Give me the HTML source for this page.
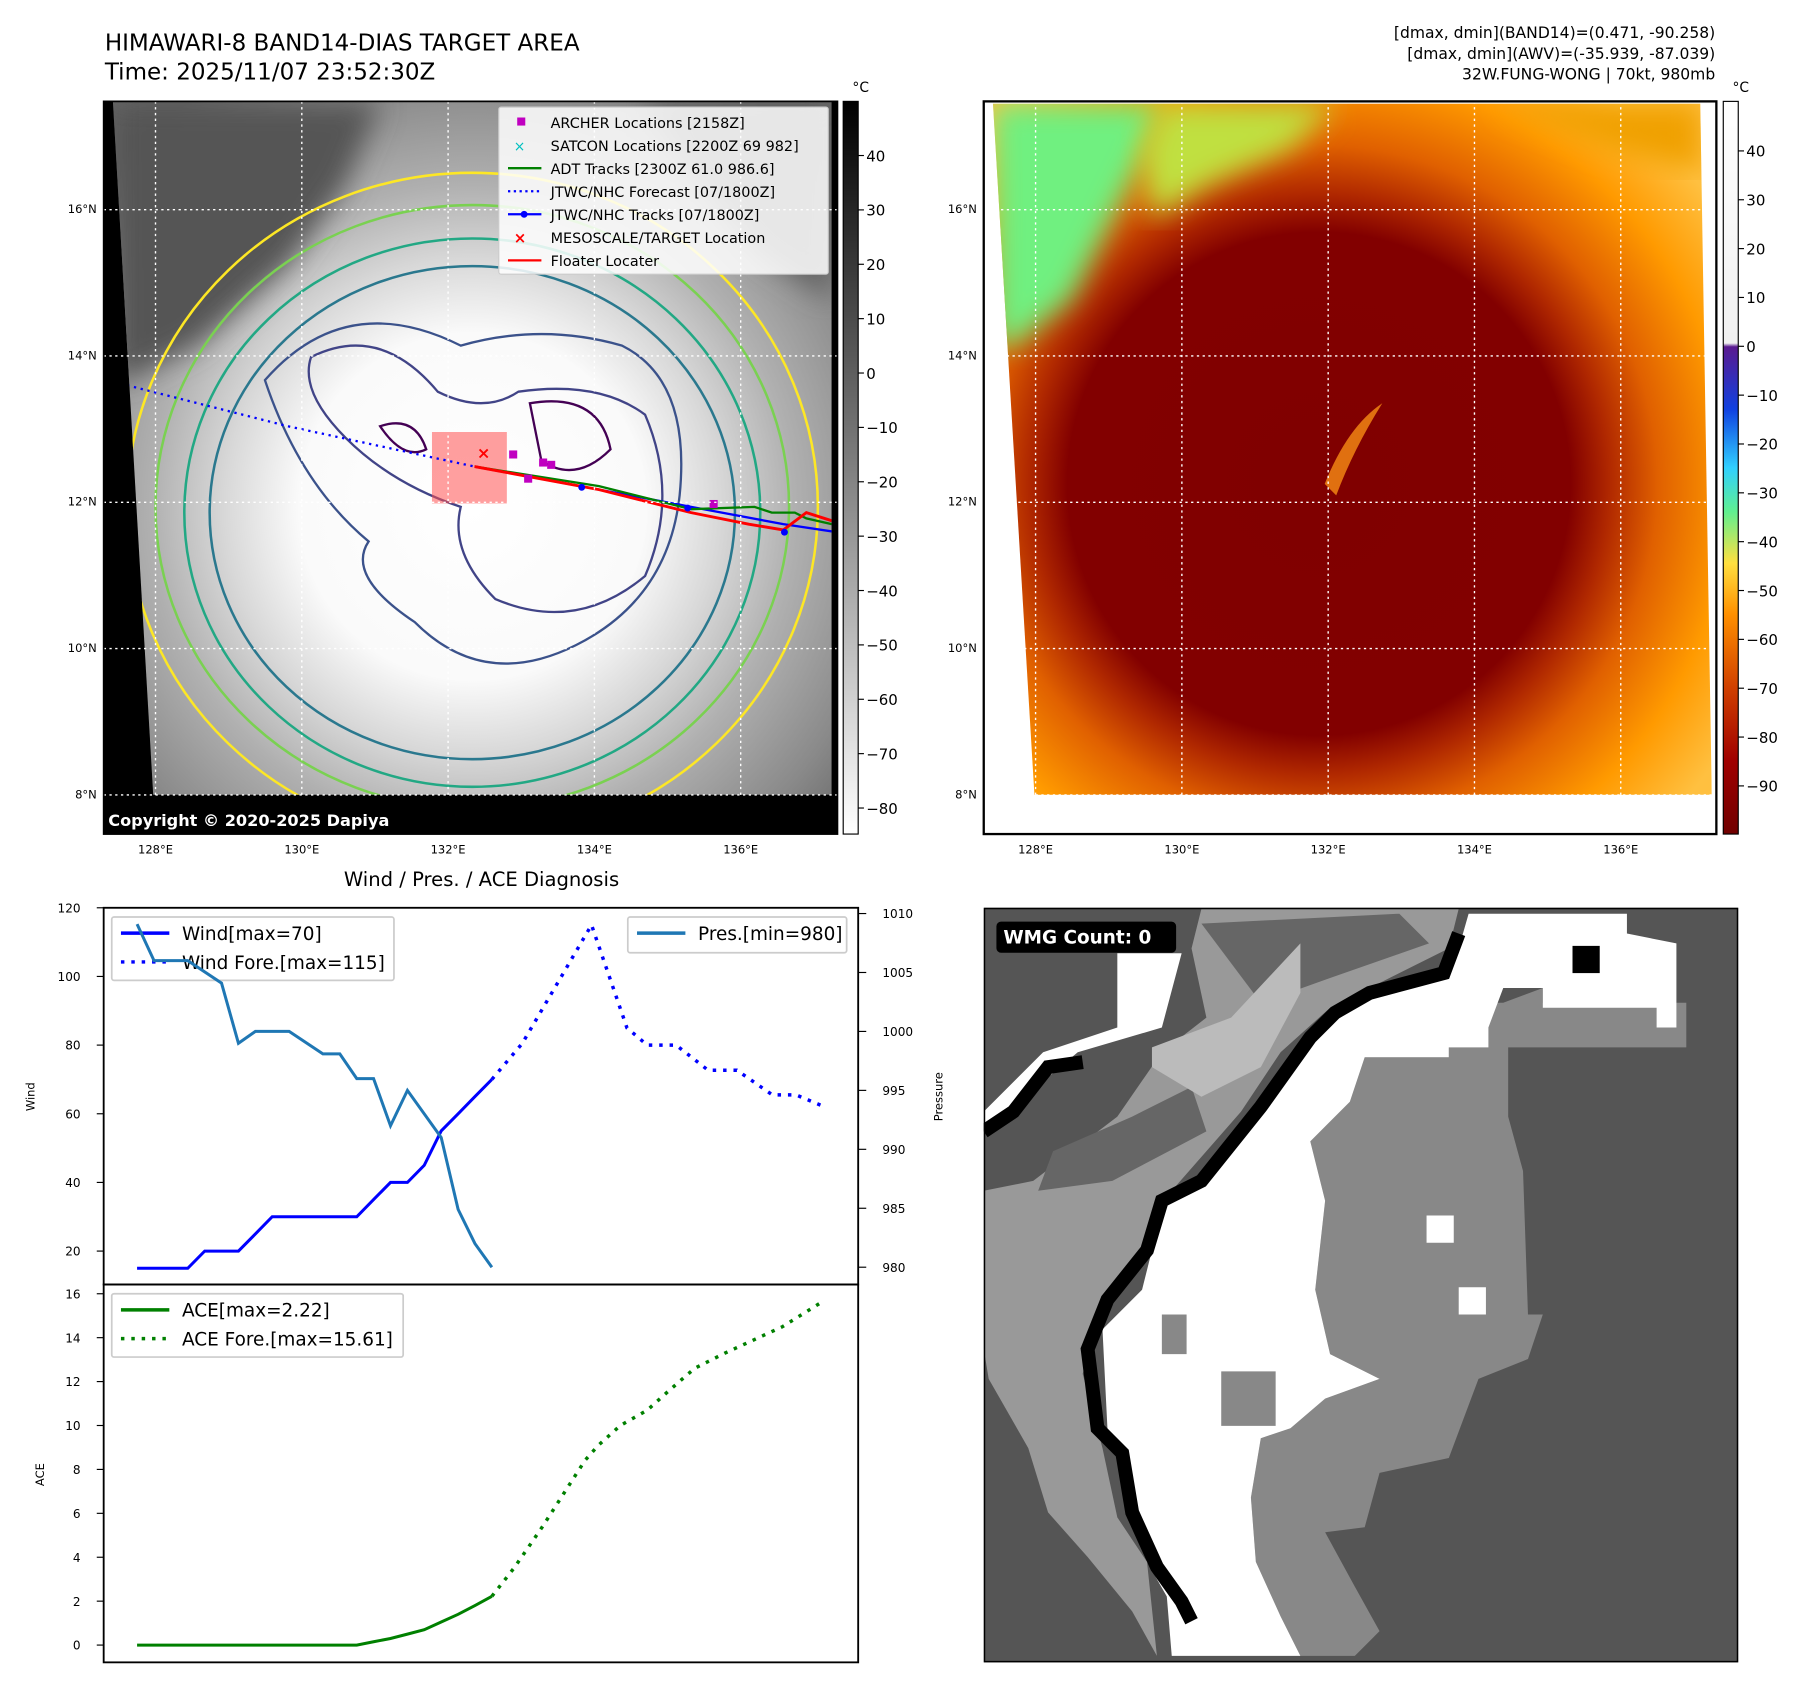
<!DOCTYPE html>
<html><head><meta charset="utf-8"><style>
html,body{margin:0;padding:0;background:#fff;}
svg{display:block;font-family:"DejaVu Sans","Liberation Sans",sans-serif;}
</style></head><body>
<svg id="root" width="1797" height="1690" viewBox="0 0 1560 1467" preserveAspectRatio="none" xmlns="http://www.w3.org/2000/svg">
<defs>
<radialGradient id="gmap" cx="410" cy="440" r="430" gradientUnits="userSpaceOnUse">
<stop offset="0" stop-color="#fff"/><stop offset="0.35" stop-color="#fafafa"/><stop offset="0.5" stop-color="#d8d8d8"/><stop offset="0.65" stop-color="#b0b0b0"/><stop offset="0.85" stop-color="#8a8a8a"/><stop offset="1" stop-color="#666"/></radialGradient>
<radialGradient id="rmap" cx="1145" cy="420" r="420" gradientUnits="userSpaceOnUse">
<stop offset="0" stop-color="#800000"/><stop offset="0.52" stop-color="#820000"/><stop offset="0.6" stop-color="#b02800"/><stop offset="0.7" stop-color="#e06000"/><stop offset="0.85" stop-color="#ff9a00"/><stop offset="1" stop-color="#ffc040"/></radialGradient>
<linearGradient id="cbg" x1="0" y1="0" x2="0" y2="1"><stop offset="0" stop-color="#000"/><stop offset="1" stop-color="#fff"/></linearGradient>
<linearGradient id="cbc" x1="0" y1="0" x2="0" y2="1">
<stop offset="0" stop-color="#fff"/><stop offset="0.33" stop-color="#f0f0f0"/><stop offset="0.335" stop-color="#5a1a90"/><stop offset="0.42" stop-color="#1040e0"/><stop offset="0.5" stop-color="#30d0ff"/><stop offset="0.56" stop-color="#60f090"/><stop offset="0.63" stop-color="#ffe040"/><stop offset="0.7" stop-color="#ff9000"/><stop offset="0.8" stop-color="#d04000"/><stop offset="0.9" stop-color="#a00000"/><stop offset="1" stop-color="#700000"/></linearGradient>
<clipPath id="lclip"><polygon points="98,88 722,88 722,690 133,690"/></clipPath>
<clipPath id="rclip"><polygon points="862,90 1476,90 1486,690 898,690"/></clipPath>
<filter id="blur"><feGaussianBlur stdDeviation="12"/></filter>
</defs>

<text x="91" y="44" font-size="20">HIMAWARI-8 BAND14-DIAS TARGET AREA</text>
<text x="91" y="69" font-size="20">Time: 2025/11/07 23:52:30Z</text>
<text x="1489" y="33" font-size="13.5" text-anchor="end">[dmax, dmin](BAND14)=(0.471, -90.258)</text>
<text x="1489" y="51" font-size="13.5" text-anchor="end">[dmax, dmin](AWV)=(-35.939, -87.039)</text>
<text x="1489" y="69" font-size="13.5" text-anchor="end">32W.FUNG-WONG | 70kt, 980mb</text>

<g>
<rect x="90" y="88" width="637" height="636" fill="#000"/>
<g clip-path="url(#lclip)">
<rect x="90" y="88" width="640" height="610" fill="url(#gmap)"/>
<path d="M98,88 L330,88 L300,160 L250,230 L170,300 L110,330 L98,330Z" fill="#555" filter="url(#blur)"/>
<path d="M560,88 L722,88 L722,260 L660,220 L600,150Z" fill="#606060" filter="url(#blur)"/>
<ellipse cx="410" cy="440" rx="300" ry="290" fill="none" stroke="#fde725" stroke-width="2.2"/>
<ellipse cx="410" cy="440" rx="275" ry="262" fill="none" stroke="#7ad151" stroke-width="2.2"/>
<ellipse cx="410" cy="445" rx="250" ry="238" fill="none" stroke="#22a884" stroke-width="2.2"/>
<ellipse cx="410" cy="445" rx="228" ry="214" fill="none" stroke="#2a788e" stroke-width="2.2"/>
<path d="M230,330 Q300,250 400,300 Q470,280 540,300 Q600,330 590,430 Q580,520 500,560 Q420,600 360,540 Q300,500 320,470 Q260,420 230,330Z" fill="none" stroke="#3b528b" stroke-width="2"/>
<path d="M270,310 Q330,280 380,340 Q420,360 450,340 Q520,330 560,360 Q590,430 560,500 Q500,550 430,520 Q390,480 400,440 Q340,420 300,380 Q260,340 270,310Z" fill="none" stroke="#414487" stroke-width="2"/>
<path d="M330,370 Q360,360 370,390 Q350,400 330,370Z M460,350 Q520,340 530,390 Q500,420 470,400Z" fill="none" stroke="#440154" stroke-width="2"/>
<rect x="375" y="375" width="65" height="62" fill="rgba(255,80,80,0.55)"/>
<polyline points="93,330 250,370 412,405" fill="none" stroke="#0000ff" stroke-width="2" stroke-dasharray="2,4"/>
<polyline points="412,405 520,425 600,440 680,455 727,462" fill="none" stroke="#0000ff" stroke-width="2"/>
<polyline points="412,405 520,422 600,442 655,440 670,445 690,445 700,450 722,455" fill="none" stroke="#008000" stroke-width="2"/>
<polyline points="412,405 520,425 600,445 650,455 680,460 700,445 722,452" fill="none" stroke="#ff0000" stroke-width="2.5"/>
<circle cx="505" cy="423" r="3" fill="#00f"/><circle cx="597" cy="441" r="3" fill="#00f"/><circle cx="681" cy="462" r="3" fill="#00f"/>
<rect x="442" y="391" width="7" height="7" fill="#c000c0"/><rect x="455" y="412" width="7" height="7" fill="#c000c0"/><rect x="468" y="398" width="7" height="7" fill="#c000c0"/><rect x="475" y="400" width="7" height="7" fill="#c000c0"/><rect x="616" y="434" width="7" height="7" fill="#c000c0"/>
<text x="414" y="398" font-size="14" fill="#f00" font-weight="bold">×</text>
</g>
<rect x="90" y="690" width="637" height="34" fill="#000"/>
<text x="94" y="717" font-size="14" font-weight="bold" fill="#fff">Copyright © 2020-2025 Dapiya</text>
<g stroke="#fff" stroke-width="1.2" stroke-dasharray="2,3" fill="none">
<line x1="135" y1="88" x2="135" y2="690"/><line x1="262" y1="88" x2="262" y2="690"/><line x1="389" y1="88" x2="389" y2="690"/><line x1="516" y1="88" x2="516" y2="690"/><line x1="643" y1="88" x2="643" y2="690"/>
<line x1="90" y1="182" x2="727" y2="182"/><line x1="90" y1="309" x2="727" y2="309"/><line x1="90" y1="436" x2="727" y2="436"/><line x1="90" y1="563" x2="727" y2="563"/><line x1="90" y1="690" x2="727" y2="690"/>
</g>
<rect x="90" y="88" width="637" height="636" fill="none" stroke="#000" stroke-width="1.5"/>
</g>
<g font-size="12.5">
<rect x="433" y="93" width="286" height="145" fill="rgba(255,255,255,0.85)" stroke="#ccc" rx="2"/>
<rect x="449" y="102" width="7" height="7" fill="#c000c0"/><text x="478" y="111">ARCHER Locations [2158Z]</text>
<text x="446" y="131" fill="#00c0c0" font-size="12">×</text><text x="478" y="131">SATCON Locations [2200Z 69 982]</text>
<line x1="441" y1="146" x2="470" y2="146" stroke="#008000" stroke-width="2"/><text x="478" y="151">ADT Tracks [2300Z 61.0 986.6]</text>
<line x1="441" y1="166" x2="470" y2="166" stroke="#00f" stroke-width="2" stroke-dasharray="2,3"/><text x="478" y="171">JTWC/NHC Forecast [07/1800Z]</text>
<line x1="441" y1="186" x2="470" y2="186" stroke="#00f" stroke-width="2"/><circle cx="455" cy="186" r="3" fill="#00f"/><text x="478" y="191">JTWC/NHC Tracks [07/1800Z]</text>
<text x="446" y="211" fill="#f00" font-weight="bold" font-size="13">×</text><text x="478" y="211">MESOSCALE/TARGET Location</text>
<line x1="441" y1="226" x2="470" y2="226" stroke="#f00" stroke-width="2"/><text x="478" y="231">Floater Locater</text>
</g>
<g>
<rect x="732" y="88" width="13" height="636" fill="url(#cbg)" stroke="#000" stroke-width="1"/>
<text x="740" y="80" font-size="12">°C</text>
</g>
<g id="lcbt" font-size="13"></g>
<g id="lmapTicks" font-size="10"></g>

<g>
<rect x="854" y="88" width="636" height="636" fill="#fff"/>
<g clip-path="url(#rclip)">
<rect x="854" y="88" width="640" height="610" fill="url(#rmap)"/>
<path d="M862,90 L1010,90 L990,140 L960,200 L930,260 L880,300 L862,300Z" fill="#70f080" filter="url(#blur)"/>
<path d="M1010,90 L1160,90 L1120,130 L1050,160 L1000,190 L990,130Z" fill="#c0e040" filter="url(#blur)"/>
<path d="M1300,90 L1476,90 L1476,150 L1400,130Z" fill="#f0a000" filter="url(#blur)"/>
<path d="M1150,420 Q1170,370 1200,350 Q1175,390 1160,430Z" fill="#e07010"/>
</g>
<g stroke="#fff" stroke-width="1.2" stroke-dasharray="2,3" fill="none">
<line x1="899" y1="88" x2="899" y2="724"/><line x1="1026" y1="88" x2="1026" y2="724"/><line x1="1153" y1="88" x2="1153" y2="724"/><line x1="1280" y1="88" x2="1280" y2="724"/><line x1="1407" y1="88" x2="1407" y2="724"/>
<line x1="854" y1="182" x2="1490" y2="182"/><line x1="854" y1="309" x2="1490" y2="309"/><line x1="854" y1="436" x2="1490" y2="436"/><line x1="854" y1="563" x2="1490" y2="563"/><line x1="854" y1="690" x2="1490" y2="690"/>
</g>
<rect x="854" y="88" width="636" height="636" fill="none" stroke="#000" stroke-width="2"/>
</g>
<g>
<rect x="1496" y="88" width="13" height="636" fill="url(#cbc)" stroke="#000" stroke-width="1"/>
<text x="1504" y="80" font-size="12">°C</text>
</g>
<g id="rcbt" font-size="13"></g>
<g id="rmapTicks" font-size="10"></g>

<text x="418" y="769" font-size="17" text-anchor="middle">Wind / Pres. / ACE Diagnosis</text>
<g id="chart"></g>

<svg x="854" y="788" width="655" height="655" viewBox="0 8 1525 1525" preserveAspectRatio="none">
<rect x="0" y="0" width="1525" height="1540" fill="#555"/>
<polygon fill="#999" points="0,580 100,560 270,430 360,300 450,230 420,90 440,10 960,10 940,90 860,130 700,210 600,300 520,420 380,580 320,700 240,800 200,950 240,1100 270,1240 330,1330 350,1520 300,1430 210,1320 130,1230 90,1100 10,960 0,900"/>
<polygon fill="#666" points="140,500 300,430 420,370 450,460 260,560 110,580"/>
<polygon fill="#666" points="440,40 840,20 900,80 700,150 560,200"/>
<polygon fill="#bbb" points="340,290 500,230 640,80 640,180 560,330 440,390 340,330"/>
<polygon fill="#888" points="1050,200 1130,170 1130,200 1420,200 1420,290 1060,290 1060,430 1090,540 1100,830 1130,830 1100,920 1000,960 940,1120 800,1150 770,1260 690,1270 750,1380 800,1470 750,1520 640,1520 600,1440 550,1330 540,1200 560,1080 620,1060 690,1000 800,960 700,910 670,780 690,600 660,480 690,450 740,400 770,310 940,310 940,285 1020,250 1020,200"/>
<polygon fill="#fff" points="980,20 1300,20 1300,60 1400,80 1400,250 1360,250 1360,210 1130,210 1130,170 1050,170 1020,250 1020,290 940,290 940,310 770,310 740,400 690,450 660,480 690,600 670,780 700,910 800,960 690,1000 620,1060 560,1080 540,1200 550,1330 600,1440 640,1520 380,1520 370,1400 330,1330 300,1220 270,1090 250,1060 240,860 320,780 350,660 380,590 430,560 540,430 660,280 710,220 780,170 930,140 960,90"/>
<polygon fill="#fff" points="270,100 400,100 360,250 190,300 0,460 0,420 120,300 270,250"/>
<polygon fill="#888" points="360,830 410,830 410,910 360,910"/><polygon fill="#888" points="480,945 590,945 590,1055 480,1055"/>
<polygon fill="#fff" points="895,630 950,630 950,685 895,685"/><polygon fill="#fff" points="960,775 1015,775 1015,830 960,830"/>
<rect x="1190" y="85" width="55" height="55" fill="#000"/>
<polyline fill="none" stroke="#000" stroke-width="28" points="960,60 930,140 780,180 710,220 660,270 560,410 440,560 360,600 330,700 250,800 210,900 230,1060 280,1110 300,1230 350,1340 400,1410 420,1450"/>
<polyline fill="none" stroke="#000" stroke-width="28" points="0,460 60,420 130,330 200,320"/>
<rect x="0" y="8" width="1525" height="1525" fill="none" stroke="#000" stroke-width="6"/>
</svg>
<g>
<rect x="865" y="800" width="156" height="27" rx="4" fill="#000"/>
<text x="871" y="819" font-size="16" font-weight="bold" fill="#fff">WMG Count: 0</text>
</g>
</svg>
<script>
const windIdx = [0,1,2,3,4,5,6,7,8,9,10,11,12,13,14,15,16,17,18,19,20,21];
const windVals = [15,15,15,15,20,20,20,25,30,30,30,30,30,30,35,40,40,45,55,60,65,70];
const foreIdx = [21,22.8,26.9,29,30.2,31.9,33.8,35.5,37.6,39,40.5];
const foreWind = [70,80.5,115,85,80,80,72.7,72.7,65.5,65.5,62.4];
const presIdx = [0,1,3,5,6,7,9,11,12,13,14,15,16,18,19,20,21];
const presVals = [1009.1,1006,1006,1004.1,999,1000,1000,998.1,998.1,996,996,992,995,991,984.9,982,980];
const aceIdx = [0,13,14,15,16,17,18,19,20,21];
const aceVals = [0,0,0.15,0.3,0.5,0.7,1.05,1.4,1.8,2.22];
const aceForeIdx = [21,22.3,23.2,24,25,26.5,27.3,28.6,30.2,31.5,33,34.8,36.5,38.2,40.5];
const aceForeVals = [2.22,3.5,4.5,5.4,6.6,8.4,9.1,10,10.7,11.6,12.6,13.3,13.9,14.5,15.61];
const windTicks = [20,40,60,80,100,120];
const presTicks = [980,985,990,995,1000,1005,1010];
const aceTicks = [0,2,4,6,8,10,12,14,16];

const NS='http://www.w3.org/2000/svg';
function mk(tag,attrs,parent){const e=document.createElementNS(NS,tag);for(const k in attrs)e.setAttribute(k,attrs[k]);parent.appendChild(e);return e;}
const X = i => 119 + i*14.667;
const YW = v => 788 + (120-v)*2.98;
const YP = v => 793 + (1010-v)*10.233;
const YA = v => 1428 - v*19.06;
const chart=document.getElementById('chart');

function line(xs,ys,fx,fy,stroke,w,dash,name){
  const pts=xs.map((x,i)=>fx(x).toFixed(1)+','+fy(ys[i]).toFixed(1)).join(' ');
  const p=mk('polyline',{points:pts,fill:'none',stroke:stroke,'stroke-width':w},chart);
  if(dash)p.setAttribute('stroke-dasharray',dash);
  
  
}
const f1=mk('rect',{x:90,y:788,width:655,height:327,fill:'none',stroke:'#000','stroke-width':1.6},chart);


const f2=mk('rect',{x:90,y:1115,width:655,height:328,fill:'none',stroke:'#000','stroke-width':1.6},chart);



function legend(x,y,w,h,items,name){
  const g=mk('g',{},chart);
  
  
  mk('rect',{x:x,y:y,width:w,height:h,fill:'rgba(255,255,255,0.8)',stroke:'#ccc','stroke-width':1.5,rx:2},g);
  items.forEach((it,i)=>{const yy=y+14+i*25;
    const l=mk('line',{x1:x+8,y1:yy,x2:x+50,y2:yy,stroke:it[1],'stroke-width':3},g);
    if(it[2])l.setAttribute('stroke-dasharray','3,6');
    const t=mk('text',{x:x+61,y:yy+6,'font-size':16},g);t.textContent=it[0];});
}
legend(97,796,245,55,[['Wind[max=70]','#0000ff',0],['Wind Fore.[max=115]','#0000ff',1]],'wind-legend');
legend(97,1123,253,55,[['ACE[max=2.22]','#008000',0],['ACE Fore.[max=15.61]','#008000',1]],'ace-legend');

line(windIdx,windVals,X,YW,'#0000ff',2.6,null,'wind-line');
line(foreIdx,foreWind,X,YW,'#0000ff',3,'3,6','wind-forecast-line');
line(presIdx,presVals,X,YP,'#1f77b4',2.6,null,'pressure-line');
legend(545,796,190,31,[['Pres.[min=980]','#1f77b4',0]],'pressure-legend');
line(aceIdx,aceVals,X,YA,'#008000',2.6,null,'ace-line');
line(aceForeIdx,aceForeVals,X,YA,'#008000',3,'3,6','ace-forecast-line');

function tick(x1,y,x2,lx,label,anchor,name){
  mk('line',{x1:x1,y1:y,x2:x2,y2:y,stroke:'#000','stroke-width':1},chart);
  const t=mk('text',{x:lx,y:y+4,'font-size':10.5,'text-anchor':anchor},chart);
  t.textContent=label;
  
  
}
windTicks.forEach(v=>tick(84,YW(v),90,70,v,'end','wind-tick'));
presTicks.forEach(v=>tick(745,YP(v),752,766,v,'start','pressure-tick'));
aceTicks.forEach(v=>tick(84,YA(v),90,70,v,'end','ace-tick'));
function rotLabel(x,y,txt,name){const t=mk('text',{x:x,y:y,'font-size':10,'text-anchor':'middle',transform:`rotate(-90 ${x} ${y})`},chart);t.textContent=txt;
  
  }
rotLabel(30,952,'Wind','wind-axis-title');rotLabel(818,952,'Pressure','pressure-axis-title');rotLabel(38,1280,'ACE','ace-axis-title');

const lcbVals=[40,30,20,10,0,-10,-20,-30,-40,-50,-60,-70,-80];
const rcbVals=[40,30,20,10,0,-10,-20,-30,-40,-50,-60,-70,-80,-90];
const lonLabels=['128°E','130°E','132°E','134°E','136°E'];
const latLabels=['16°N','14°N','12°N','10°N','8°N'];
const lcb=document.getElementById('lcbt'), rcb=document.getElementById('rcbt');
lcbVals.forEach(v=>{const y=135+(40-v)*4.72;mk('line',{x1:745,y1:y,x2:750,y2:y,stroke:'#000'},lcb);const t=mk('text',{x:752,y:y+5},lcb);t.textContent=v<0?'\u2212'+(-v):v;});
rcbVals.forEach(v=>{const y=131+(40-v)*4.24;mk('line',{x1:1509,y1:y,x2:1514,y2:y,stroke:'#000'},rcb);const t=mk('text',{x:1516,y:y+5},rcb);t.textContent=v<0?'\u2212'+(-v):v;});
[[document.getElementById('lmapTicks'),135,90,724],[document.getElementById('rmapTicks'),899,854,724]].forEach(([g,x0,ax,by])=>{
  lonLabels.forEach((s,i)=>{const t=mk('text',{x:x0+i*127,y:by+17,'text-anchor':'middle'},g);t.textContent=s;});
  latLabels.forEach((s,i)=>{const t=mk('text',{x:ax-6,y:185+i*127,'text-anchor':'end'},g);t.textContent=s;});
});
</script>
</body></html>
